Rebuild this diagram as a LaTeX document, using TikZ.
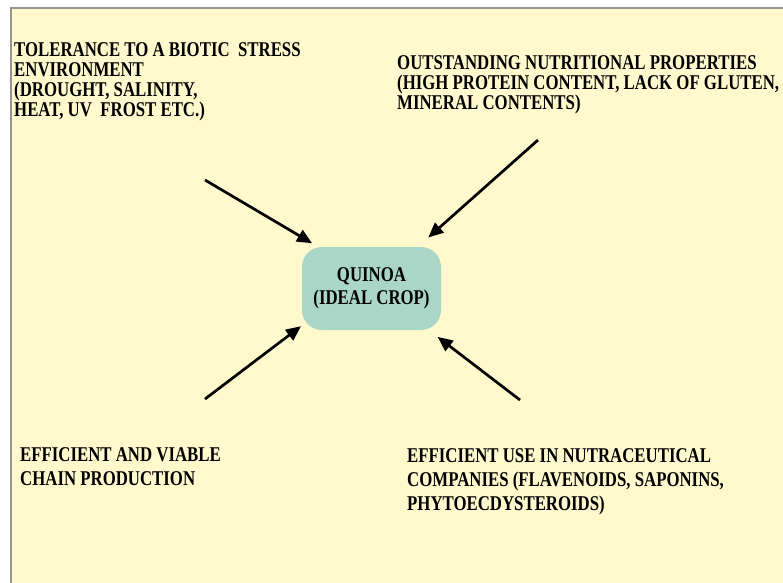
\documentclass[tikz,border=0pt]{standalone}
\usepackage{fontspec}
\newfontfamily\slidefont{Liberation Serif}[FakeStretch=0.80]
\usepackage{xcolor}
\usepackage{tikz}
\usetikzlibrary{positioning, arrows.meta}

\definecolor{panelyellow}{RGB}{255,249,205}
\definecolor{panelgray}{RGB}{150,150,140}
\definecolor{hubteal}{RGB}{170,214,199}

\begin{document}
\begin{tikzpicture}[x=1pt, y=-1pt,
          lbl/.style={anchor=north west, inner sep=0pt, align=left, text=black,
                      font=\slidefont\bfseries\fontsize{21}{20}\selectfont},
          lowlbl/.style={lbl, font=\slidefont\bfseries\fontsize{21}{24}\selectfont},
          hub/.style={rectangle, rounded corners=20pt, fill=hubteal, align=center,
                      minimum width=139pt, minimum height=83pt, text=black,
                      font=\slidefont\bfseries\fontsize{21}{23}\selectfont},
          arr/.style={line width=2.7pt, -{Triangle[length=15pt, width=13pt]}}]
          \useasboundingbox (0,0) rectangle (783,582);
          \clip (0,0) rectangle (783,582);

          % slide panel
          \fill[panelyellow] (11,8) rectangle (790,590);
          \draw[panelgray, line width=1.6pt] (11,590) -- (11,8) -- (790,8);

          \node[hub] (quinoa) at (371.5,288.5) {QUINOA\\(IDEAL CROP)};

          \node[lbl] (tolerance) at (14,42) {TOLERANCE TO A BIOTIC~\ STRESS\\ENVIRONMENT\\(DROUGHT, SALINITY,\\HEAT, UV~\ FROST ETC.)};
          \node[lbl] (nutrition) at (397,55) {OUTSTANDING NUTRITIONAL PROPERTIES\\(HIGH PROTEIN CONTENT, LACK OF GLUTEN,\\MINERAL CONTENTS)};
          \node[lowlbl] (chain) at (20,447) {EFFICIENT AND VIABLE\\CHAIN PRODUCTION};
          \node[lowlbl] (nutraceutical) at (407,448) {EFFICIENT USE IN NUTRACEUTICAL\\COMPANIES (FLAVENOIDS, SAPONINS,\\PHYTOECDYSTEROIDS)};

          \coordinate (s1) at (205,180);
          \coordinate (s2) at (538,140);
          \coordinate (s3) at (205,399);
          \coordinate (s4) at (520,400);

          \draw[arr, shorten >=7pt] (s1) -- (quinoa.142.5);
          \draw[arr, shorten >=14pt] (s2) -- (quinoa.42);
          \draw[arr, shorten >=1pt] (s3) -- (quinoa.208);
          \draw[arr, shorten >=11pt] (s4) -- (quinoa.-36);
        \end{tikzpicture}
\end{document}
